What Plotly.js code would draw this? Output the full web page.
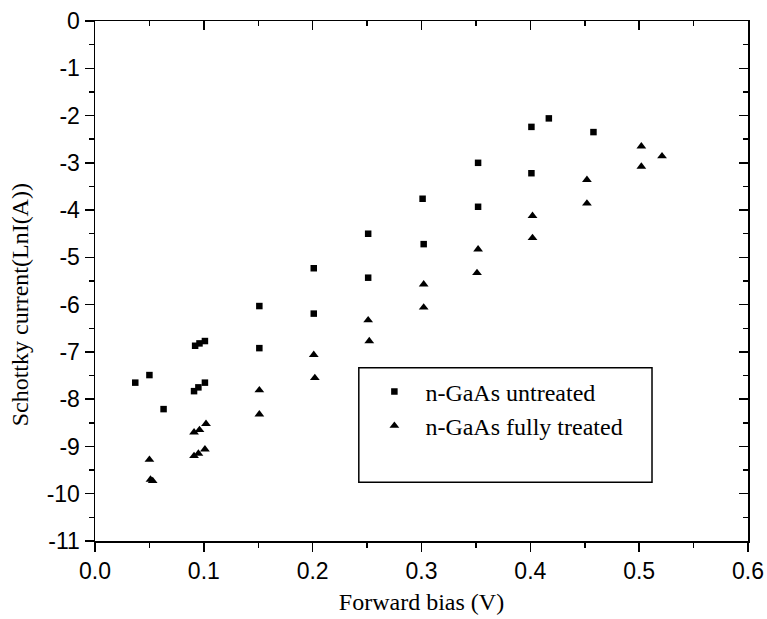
<!DOCTYPE html>
<html>
<head>
<meta charset="utf-8">
<script src="https://cdn.plot.ly/plotly-3.0.1.min.js"></script>
<style>html,body{margin:0;padding:0;background:#fff;}#chart{width:767px;height:619px;}</style>
</head>
<body>
<div id="chart"></div>
<script>
// Data
var untreatedX = [0.037, 0.050, 0.063, 0.091, 0.095, 0.101, 0.092, 0.096, 0.101, 0.151, 0.151, 0.201, 0.201, 0.251, 0.251, 0.301, 0.302, 0.352, 0.352, 0.401, 0.401, 0.417, 0.458];
var untreatedY = [-7.65, -7.49, -8.21, -7.83, -7.75, -7.65, -6.87, -6.82, -6.77, -6.03, -6.92, -5.23, -6.19, -4.50, -5.43, -3.76, -4.72, -3.00, -3.93, -2.24, -3.22, -2.06, -2.35];
var treatedX = [0.050, 0.051, 0.053, 0.091, 0.096, 0.102, 0.091, 0.095, 0.101, 0.151, 0.151, 0.201, 0.202, 0.251, 0.252, 0.302, 0.302, 0.352, 0.351, 0.402, 0.402, 0.452, 0.452, 0.502, 0.502, 0.521];
var treatedY = [-9.28, -9.70, -9.73, -8.70, -8.65, -8.52, -9.20, -9.15, -9.06, -7.81, -8.32, -7.06, -7.55, -6.33, -6.77, -5.57, -6.06, -4.83, -5.33, -4.12, -4.59, -3.36, -3.86, -2.65, -3.08, -2.86];
var seriesNames = ['n-GaAs untreated', 'n-GaAs fully treated'];
var xTickVals = [0, 0.1, 0.2, 0.3, 0.4, 0.5, 0.6];
var xTickText = ['0.0', '0.1', '0.2', '0.3', '0.4', '0.5', '0.6'];
var yTickVals = [0, -1, -2, -3, -4, -5, -6, -7, -8, -9, -10, -11];
var yTickText = ['0', '-1', '-2', '-3', '-4', '-5', '-6', '-7', '-8', '-9', '-10', '-11'];
var xTitle = 'Forward bias (V)';
var yTitle = 'Schottky current(LnI(A))';

var serif = 'Liberation Serif, Times New Roman, serif';
var sans = 'Liberation Sans, Arial, sans-serif';

var traces = [
  {x: untreatedX, y: untreatedY, type: 'scatter', mode: 'markers', name: seriesNames[0],
   marker: {symbol: 'square', size: 6.5, color: '#000'}},
  {x: treatedX, y: treatedY, type: 'scatter', mode: 'markers', name: seriesNames[1],
   marker: {symbol: 'triangle-up', size: 8.5, color: '#000'}},
  {x: [null], y: [null], xaxis: 'x2', yaxis: 'y2', type: 'scatter', mode: 'markers', showlegend: false, hoverinfo: 'skip'}
];

var layout = {
  width: 767, height: 619,
  margin: {l: 95, r: 19, t: 21, b: 78},
  paper_bgcolor: '#fff', plot_bgcolor: '#fff',
  showlegend: true,
  legend: {x: 0.411, y: 0.330, xanchor: 'left', yanchor: 'top', bgcolor: 'rgba(0,0,0,0)',
           borderwidth: 0, font: {family: serif, size: 24, color: '#000'}, itemwidth: 52, tracegroupgap: 0},
  xaxis: {range: [0, 0.6], tickvals: xTickVals, ticktext: xTickText, ticks: 'outside', ticklen: 9, tickwidth: 1.5,
          tickcolor: '#000', showline: true, linecolor: '#000', linewidth: 1.5, showgrid: false, zeroline: false,
          tickfont: {family: sans, size: 23, color: '#000'},
          minor: {dtick: 0.05, ticks: 'outside', ticklen: 5, tickwidth: 1.5, tickcolor: '#000', showgrid: false},
          title: {text: xTitle, font: {family: serif, size: 24, color: '#000'}, standoff: 10}},
  yaxis: {range: [-11, 0], tickvals: yTickVals, ticktext: yTickText, ticks: 'outside', ticklen: 9, tickwidth: 1.5,
          tickcolor: '#000', showline: true, linecolor: '#000', linewidth: 1.5, showgrid: false, zeroline: false,
          tickfont: {family: sans, size: 23, color: '#000'},
          minor: {dtick: 0.5, ticks: 'outside', ticklen: 5, tickwidth: 1.5, tickcolor: '#000', showgrid: false}},
  xaxis2: {overlaying: 'x', side: 'top', matches: 'x', range: [0, 0.6], tickvals: xTickVals, ticks: 'inside', ticklen: 9,
           tickwidth: 1.5, tickcolor: '#000', showticklabels: false, showline: true, linecolor: '#000', linewidth: 1.5,
           showgrid: false, zeroline: false,
           minor: {dtick: 0.05, ticks: 'inside', ticklen: 5, tickwidth: 1.5, tickcolor: '#000', showgrid: false}},
  yaxis2: {overlaying: 'y', side: 'right', matches: 'y', range: [-11, 0], tickvals: yTickVals, ticks: 'inside', ticklen: 9,
           tickwidth: 1.5, tickcolor: '#000', showticklabels: false, showline: true, linecolor: '#000', linewidth: 1.5,
           showgrid: false, zeroline: false,
           minor: {dtick: 0.5, ticks: 'inside', ticklen: 5, tickwidth: 1.5, tickcolor: '#000', showgrid: false}},
  annotations: [{text: yTitle, xref: 'paper', yref: 'paper', x: -0.115, y: 0.455, xanchor: 'center', yanchor: 'middle',
                 textangle: -90, showarrow: false, font: {family: serif, size: 24, color: '#000'}}],
  shapes: [{type: 'rect', xref: 'paper', yref: 'paper', x0: 0.404, x1: 0.853, y0: 0.113, y1: 0.333,
            line: {color: '#000', width: 1.5}, fillcolor: 'rgba(0,0,0,0)'}]
};

Plotly.newPlot('chart', traces, layout, {displayModeBar: false, staticPlot: true});
</script>
</body>
</html>
